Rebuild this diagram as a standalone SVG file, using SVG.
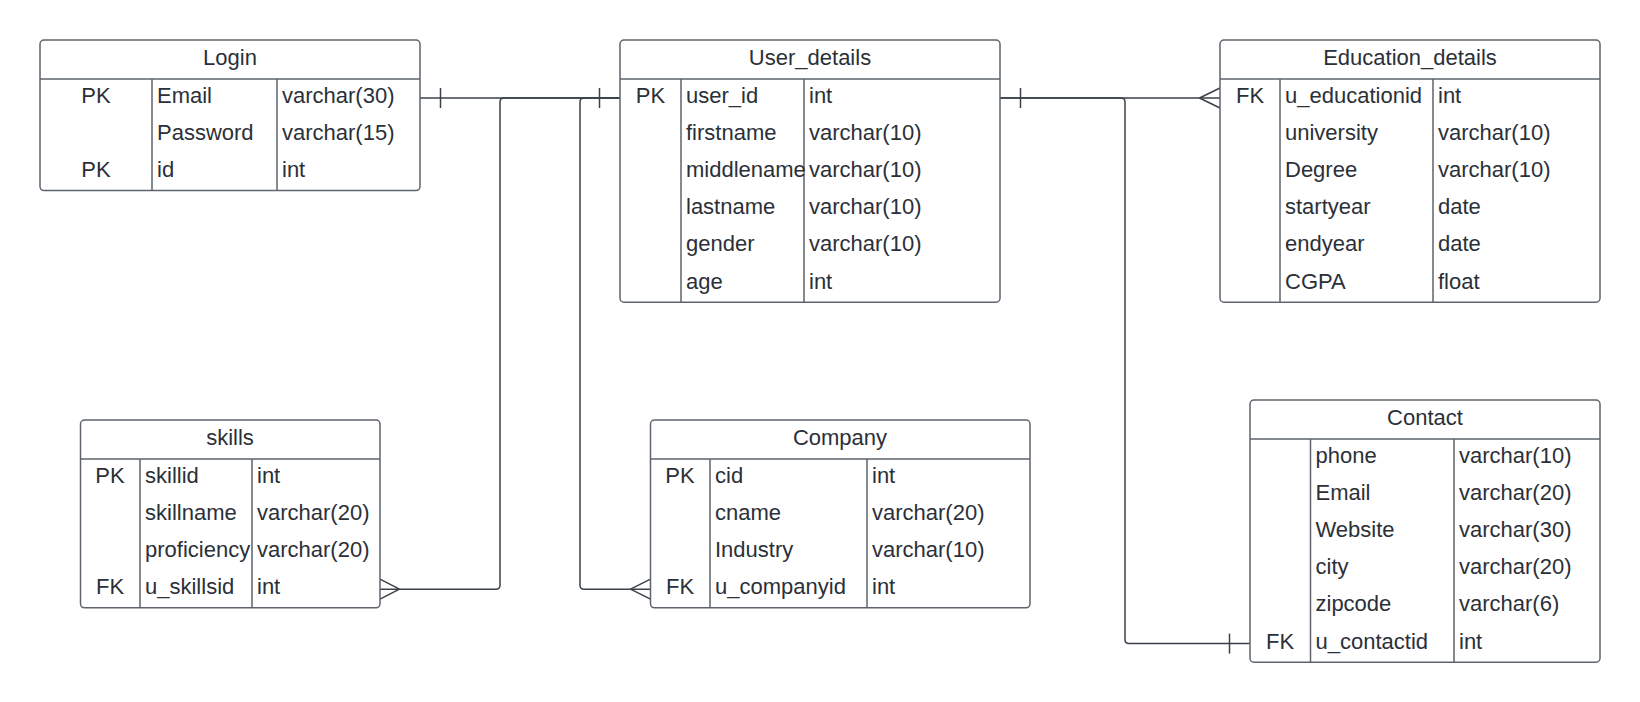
<svg xmlns="http://www.w3.org/2000/svg" width="1640" height="702" viewBox="0 0 1640 702">
<style>
.bg{fill:#ffffff}
.box{fill:#ffffff;stroke:#5e646d;stroke-width:1.5}
.ln{stroke:#5e646d;stroke-width:1.5;fill:none}
.t{font-family:"Liberation Sans",Arial,sans-serif;font-size:22px;fill:#2b3038}
.c{text-anchor:middle}
.conn path{fill:none;stroke:#3a414a;stroke-width:1.5}
</style>
<rect class="bg" x="0" y="0" width="1640" height="702"/>

<g id="connectors" class="conn">
  <path d="M420,98 H620"/>
  <path d="M440.5,88 V108"/>
  <path d="M599.5,88 V108"/>
  <path d="M620,98 H504 Q500,98 500,102 V585.2 Q500,589.2 496,589.2 H380"/>
  <path d="M399.5,589.2 L380,579.2 M399.5,589.2 L380,599.2"/>
  <path d="M620,98 H584 Q580,98 580,102 V585.2 Q580,589.2 584,589.2 H650.5"/>
  <path d="M630.5,589.2 L650.5,579.2 M630.5,589.2 L650.5,599.2"/>
  <path d="M1000,98 H1220"/>
  <path d="M1020.5,88 V108"/>
  <path d="M1199.5,98 L1220,88 M1199.5,98 L1220,108"/>
  <path d="M1000,98 H1121 Q1125,98 1125,102 V639.6 Q1125,643.6 1129,643.6 H1250"/>
  <path d="M1229.5,633.6 V653.6"/>
</g>

<g id="login">
  <rect class="box" x="40" y="40" width="380" height="150.6" rx="4"/>
  <path class="ln" d="M40,79 H420 M152,79 V190.6 M277,79 V190.6"/>
  <text class="t c" x="230" y="65">Login</text>
  <text class="t c" x="96" y="102.6">PK</text>
  <text class="t" x="157" y="102.6">Email</text>
  <text class="t" x="282" y="102.6">varchar(30)</text>
  <text class="t" x="157" y="139.8">Password</text>
  <text class="t" x="282" y="139.8">varchar(15)</text>
  <text class="t c" x="96" y="177">PK</text>
  <text class="t" x="157" y="177">id</text>
  <text class="t" x="282" y="177">int</text>
</g>

<g id="user_details">
  <rect class="box" x="620" y="40" width="380" height="262.2" rx="4"/>
  <path class="ln" d="M620,79 H1000 M681,79 V302.2 M804,79 V302.2"/>
  <text class="t c" x="810" y="65">User_details</text>
  <text class="t c" x="650.5" y="102.6">PK</text>
  <text class="t" x="686" y="102.6">user_id</text>
  <text class="t" x="809" y="102.6">int</text>
  <text class="t" x="686" y="139.8">firstname</text>
  <text class="t" x="809" y="139.8">varchar(10)</text>
  <text class="t" x="686" y="177">middlename</text>
  <text class="t" x="809" y="177">varchar(10)</text>
  <text class="t" x="686" y="214.2">lastname</text>
  <text class="t" x="809" y="214.2">varchar(10)</text>
  <text class="t" x="686" y="251.4">gender</text>
  <text class="t" x="809" y="251.4">varchar(10)</text>
  <text class="t" x="686" y="288.6">age</text>
  <text class="t" x="809" y="288.6">int</text>
</g>

<g id="education_details">
  <rect class="box" x="1220" y="40" width="380" height="262.2" rx="4"/>
  <path class="ln" d="M1220,79 H1600 M1280,79 V302.2 M1433,79 V302.2"/>
  <text class="t c" x="1410" y="65">Education_details</text>
  <text class="t c" x="1250" y="102.6">FK</text>
  <text class="t" x="1285" y="102.6">u_educationid</text>
  <text class="t" x="1438" y="102.6">int</text>
  <text class="t" x="1285" y="139.8">university</text>
  <text class="t" x="1438" y="139.8">varchar(10)</text>
  <text class="t" x="1285" y="177">Degree</text>
  <text class="t" x="1438" y="177">varchar(10)</text>
  <text class="t" x="1285" y="214.2">startyear</text>
  <text class="t" x="1438" y="214.2">date</text>
  <text class="t" x="1285" y="251.4">endyear</text>
  <text class="t" x="1438" y="251.4">date</text>
  <text class="t" x="1285" y="288.6">CGPA</text>
  <text class="t" x="1438" y="288.6">float</text>
</g>

<g id="skills">
  <rect class="box" x="80.5" y="420" width="299.5" height="187.8" rx="4"/>
  <path class="ln" d="M80.5,459 H380 M140,459 V607.8 M252,459 V607.8"/>
  <text class="t c" x="230" y="445">skills</text>
  <text class="t c" x="110" y="482.6">PK</text>
  <text class="t" x="145" y="482.6">skillid</text>
  <text class="t" x="257" y="482.6">int</text>
  <text class="t" x="145" y="519.8">skillname</text>
  <text class="t" x="257" y="519.8">varchar(20)</text>
  <text class="t" x="145" y="557">proficiency</text>
  <text class="t" x="257" y="557">varchar(20)</text>
  <text class="t c" x="110" y="594.2">FK</text>
  <text class="t" x="145" y="594.2">u_skillsid</text>
  <text class="t" x="257" y="594.2">int</text>
</g>

<g id="company">
  <rect class="box" x="650.5" y="420" width="379.5" height="187.8" rx="4"/>
  <path class="ln" d="M650.5,459 H1030 M710,459 V607.8 M867,459 V607.8"/>
  <text class="t c" x="840" y="445">Company</text>
  <text class="t c" x="680" y="482.6">PK</text>
  <text class="t" x="715" y="482.6">cid</text>
  <text class="t" x="872" y="482.6">int</text>
  <text class="t" x="715" y="519.8">cname</text>
  <text class="t" x="872" y="519.8">varchar(20)</text>
  <text class="t" x="715" y="557">Industry</text>
  <text class="t" x="872" y="557">varchar(10)</text>
  <text class="t c" x="680" y="594.2">FK</text>
  <text class="t" x="715" y="594.2">u_companyid</text>
  <text class="t" x="872" y="594.2">int</text>
</g>

<g id="contact">
  <rect class="box" x="1250" y="400" width="350" height="262.2" rx="4"/>
  <path class="ln" d="M1250,439 H1600 M1310.5,439 V662.2 M1454,439 V662.2"/>
  <text class="t c" x="1425" y="425">Contact</text>
  <text class="t" x="1315.5" y="462.6">phone</text>
  <text class="t" x="1459" y="462.6">varchar(10)</text>
  <text class="t" x="1315.5" y="499.8">Email</text>
  <text class="t" x="1459" y="499.8">varchar(20)</text>
  <text class="t" x="1315.5" y="537">Website</text>
  <text class="t" x="1459" y="537">varchar(30)</text>
  <text class="t" x="1315.5" y="574.2">city</text>
  <text class="t" x="1459" y="574.2">varchar(20)</text>
  <text class="t" x="1315.5" y="611.4">zipcode</text>
  <text class="t" x="1459" y="611.4">varchar(6)</text>
  <text class="t c" x="1280" y="648.6">FK</text>
  <text class="t" x="1315.5" y="648.6">u_contactid</text>
  <text class="t" x="1459" y="648.6">int</text>
</g>
</svg>
